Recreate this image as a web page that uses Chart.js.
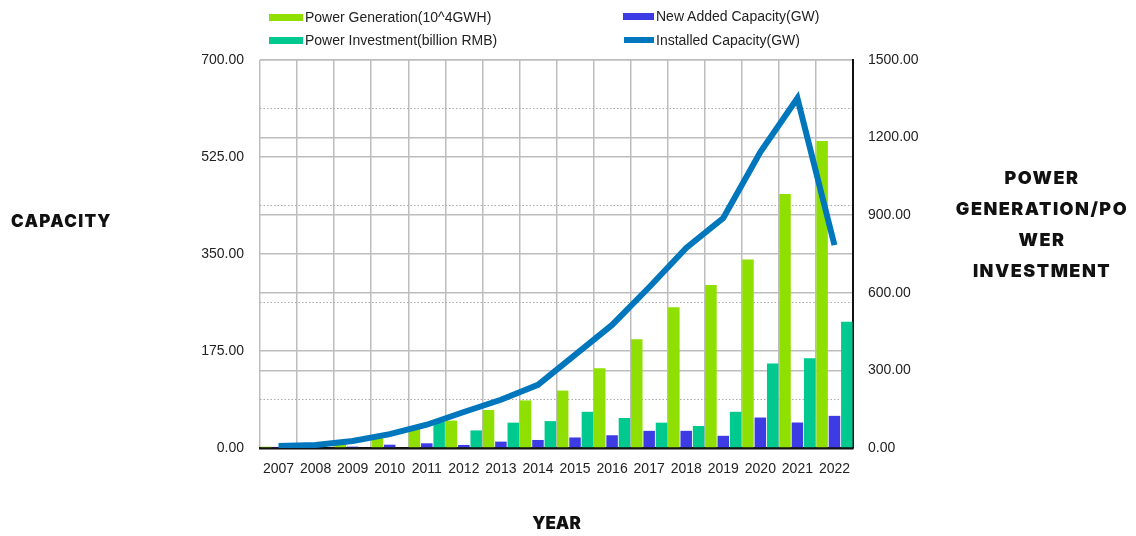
<!DOCTYPE html>
<html lang="en">
<head>
  <meta charset="UTF-8" />
  <title>Capacity / Power Generation / Power Investment</title>
  <script src="https://cdn.jsdelivr.net/npm/chart.js"></script>
  <style>
    body { margin: 0; background: #fff; }
    .wrap { position: relative; width: 1136px; height: 536px; font-family: "Liberation Sans", Arial, sans-serif; color: #222; }
    .legend-item { position: absolute; display: flex; align-items: center; font-size: 14px; height: 20px; }
    .legend-item span.box { display: inline-block; width: 34px; height: 7px; margin-right: 2px; }
    .axis-title { position: absolute; font-family: Inter, sans-serif; font-weight: 900; font-size: 17px; letter-spacing: 1.3px; color: #111; }
  </style>
</head>
<body>
  <div class="wrap">
    <canvas id="chart" width="1136" height="536"></canvas>

    <div class="legend-item" style="left:269px; top:7px;"><span class="box" style="background:#8fe000"></span>Power Generation(10^4GWH)</div>
    <div class="legend-item" style="left:269px; top:30px;"><span class="box" style="background:#00c98f"></span>Power Investment(billion RMB)</div>
    <div class="legend-item" style="left:623px; top:6px;"><span class="box" style="background:#3d3be3; width:31px"></span>New Added Capacity(GW)</div>
    <div class="legend-item" style="left:624px; top:30px;"><span class="box" style="background:#0077bd; width:30px; height:6px"></span>Installed Capacity(GW)</div>

    <div class="axis-title" style="left:11px; top:211px;">CAPACITY</div>
    <div class="axis-title" style="left:942px; top:162px; width:200px; text-align:center; line-height:31px; font-size:18px; letter-spacing:1.5px;">POWER<br>GENERATION/PO<br>WER<br>INVESTMENT</div>
  </div>

  <script>
    const years = ['2007', '2008', '2009', '2010', '2011', '2012', '2013', '2014', '2015', '2016', '2017', '2018', '2019', '2020', '2021', '2022'];

    // right axis
    const powerGeneration = [5, 8, 18, 44, 76, 106, 147, 184, 222, 308, 420, 544, 630, 729, 982, 1187];
    const powerInvestment = [0, 0, 0, 0, 102, 68, 98, 104, 140, 116, 98, 85, 140, 327, 347, 488];

    // left axis
    const newAddedCapacity = [2, 1.5, 2.5, 6, 8.5, 5.5, 11.5, 14.5, 19, 23, 31, 31, 22, 55, 46, 58];
    const installedCapacity = [3.6, 5.5, 12.5, 25, 42, 65, 87, 114, 168, 222, 290, 361, 415, 534, 631, 366];

    const leftTicks = { min: 0, max: 700, step: 87.5 };
    const rightTicks = { min: 0, max: 1500, step: 300 };

    const tickFont = { family: 'Liberation Sans', size: 14 };
    const gridGray = '#bdbdbd';

    new Chart(document.getElementById('chart'), {
      data: {
        labels: years,
        datasets: [
          {
            type: 'line',
            label: 'Installed Capacity(GW)',
            data: installedCapacity,
            yAxisID: 'y',
            borderColor: '#0077bd',
            borderWidth: 6,
            pointRadius: 0,
            tension: 0,
            borderJoinStyle: 'miter',
            order: 0
          },
          {
            type: 'bar',
            label: 'Power Generation(10^4GWH)',
            data: powerGeneration,
            yAxisID: 'y1',
            backgroundColor: '#8fe000',
            order: 1
          },
          {
            type: 'bar',
            label: 'New Added Capacity(GW)',
            data: newAddedCapacity,
            yAxisID: 'y',
            backgroundColor: '#3d3be3',
            order: 1
          },
          {
            type: 'bar',
            label: 'Power Investment(billion RMB)',
            data: powerInvestment,
            yAxisID: 'y1',
            backgroundColor: '#00c98f',
            order: 1
          }
        ]
      },
      options: {
        responsive: false,
        animation: false,
        layout: { padding: { top: 60, left: 0, right: 0, bottom: 0 } },
        datasets: {
          bar: { categoryPercentage: 1.0, barPercentage: 0.93 }
        },
        plugins: {
          legend: { display: false },
          tooltip: { enabled: false }
        },
        scales: {
          x: {
            offset: true,
            afterFit: (scale) => { scale.height = 88; },
            grid: { color: gridGray, lineWidth: 1.5, drawTicks: false, offset: true },
            border: { color: '#111', width: 2.5 },
            ticks: { font: tickFont, color: '#222', padding: 13, maxRotation: 0, autoSkip: false },
            title: {
              display: true,
              text: 'YEAR',
              color: '#111',
              font: { family: 'Inter', weight: 900, size: 17 },
              padding: { top: 0, bottom: 2 }
            }
          },
          y: {
            position: 'left',
            min: leftTicks.min,
            max: leftTicks.max,
            afterFit: (scale) => { scale.width = 260; },
            grid: {
              drawTicks: false,
              color: (ctx) => (ctx.tick && ctx.tick.value % 175 !== 0) ? '#aaaaaa' : gridGray,
              lineWidth: (ctx) => (ctx.tick && ctx.tick.value % 175 !== 0) ? 1 : 1.5
            },
            border: {
              display: false,
              dash: (ctx) => (ctx.type === 'tick' && ctx.tick && ctx.tick.value % 175 !== 0) ? [1.5, 2] : []
            },
            ticks: {
              stepSize: leftTicks.step,
              font: tickFont,
              color: '#222',
              padding: 16,
              autoSkip: false,
              callback: (v) => v % 175 === 0 ? Number(v).toFixed(2) : ''
            }
          },
          y1: {
            position: 'right',
            min: rightTicks.min,
            max: rightTicks.max,
            afterFit: (scale) => { scale.width = 283; },
            grid: { drawTicks: false, color: gridGray, lineWidth: 1.5 },
            border: { color: '#111', width: 2 },
            ticks: {
              stepSize: rightTicks.step,
              font: tickFont,
              color: '#222',
              padding: 15,
              callback: (v) => Number(v).toFixed(2)
            }
          }
        }
      }
    });
  </script>
</body>
</html>
